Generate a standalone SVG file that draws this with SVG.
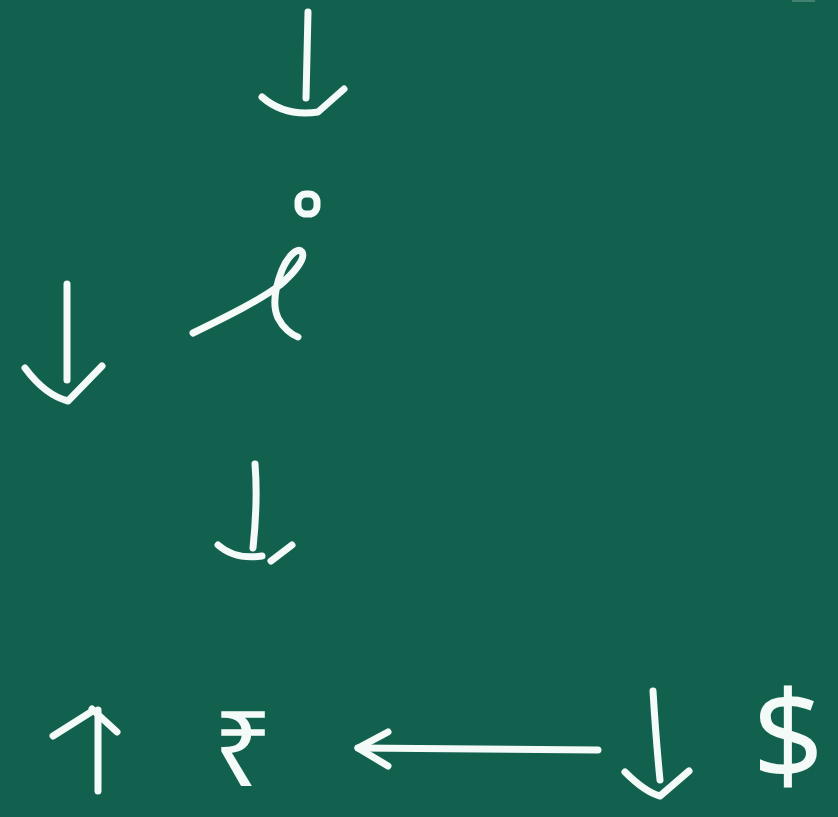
<svg xmlns="http://www.w3.org/2000/svg" width="838" height="817" viewBox="0 0 838 817">
  <style>
    .chalk { fill: none; stroke: #f3faf7; stroke-width: 7; stroke-linecap: round; stroke-linejoin: round; }
    .sym { fill: #f3faf7; font-family: "Noto Sans", "DejaVu Sans", sans-serif; font-weight: 400; text-anchor: middle; }
  </style>
  <rect width="838" height="817" fill="#12614f"/>
  <path d="M792,1 L815,1" stroke="#cfe3dc" stroke-width="2" opacity="0.25" fill="none"/>
  <g id="connectors">
    <g id="arrow-top">
      <path class="chalk" d="M308,12 L306,98"/>
      <path class="chalk" d="M262,97 Q285,117 318,112 L344,89"/>
    </g>
    <g id="arrow-left">
      <path class="chalk" d="M67,284 L67,380"/>
      <path class="chalk" d="M25,368 Q45,395 68,401 L102,366"/>
    </g>
    <g id="arrow-middle">
      <path class="chalk" d="M255,464 Q258,500 253,548"/>
      <path class="chalk" d="M218,545 Q235,560 262,556"/>
      <path class="chalk" d="M271,561 L292,545"/>
    </g>
    <g id="arrow-up">
      <path class="chalk" d="M98,710 L98,791"/>
      <path class="chalk" d="M53,736 L91,712"/>
      <path class="chalk" d="M92,709 L117,732"/>
    </g>
    <g id="arrow-long-left">
      <path class="chalk" d="M598,750 L358,748"/>
      <path class="chalk" d="M388,732 L358,748 L388,766"/>
    </g>
    <g id="arrow-down-right">
      <path class="chalk" d="M653,691 Q656,740 660,780"/>
      <path class="chalk" d="M625,772 Q645,792 660,796 L689,771"/>
    </g>
  </g>
  <g id="ell">
    <rect class="chalk" x="298" y="194" width="19" height="20" rx="8" stroke-width="6"/>
    <path class="chalk" d="M193,333 C230,315 260,300 280,285 C295,272 306,258 302,252 C297,246 287,258 282,270 C275,288 272,305 278,318 C283,328 292,335 298,337"/>
  </g>
  <g id="rupee">
    <text class="sym" x="243" y="786" font-size="105">₹</text>
  </g>
  <g id="dollar">
    <text class="sym" x="788" y="780" font-size="125">$</text>
  </g>
</svg>
